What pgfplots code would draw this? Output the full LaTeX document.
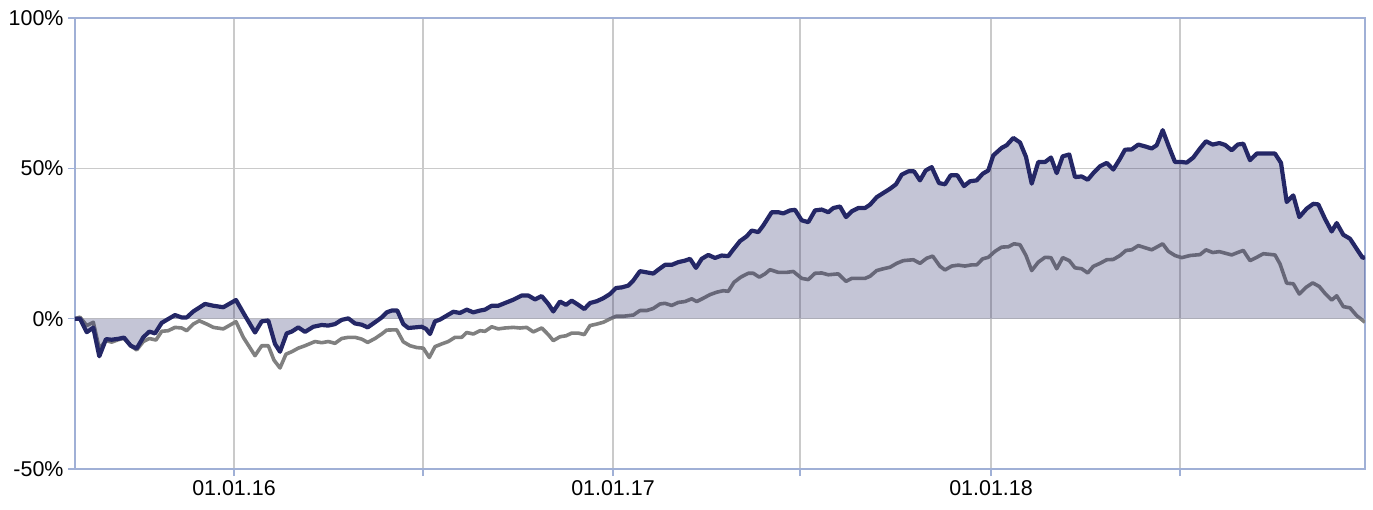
\documentclass[border=0pt]{standalone}
\usepackage{pgfplots}
\pgfplotsset{compat=1.18}
\usepackage{fontspec}
\setmainfont{Liberation Sans}
\definecolor{navyline}{RGB}{36,39,102}
\definecolor{grayline}{RGB}{128,128,128}
\definecolor{axisblue}{RGB}{160,176,214}
\definecolor{gridgray}{RGB}{202,202,202}

% x = horizontal position on the time axis (01.01.16 at 234, 01.01.17 at 613, 01.01.18 at 991)
\pgfplotstableread{
x v
75 0
80 0
86.7 -4.5
93.3 -3
99.3 -12.5
106 -6.8
111.7 -7
118.3 -6.7
124 -6.3
130.7 -9
136.7 -9.9
143.3 -6.2
149.3 -4.3
155 -4.9
161.7 -1.4
168.3 -0.1
175 1.2
181.7 0.4
186.7 0.4
193.3 2.4
205 4.9
213.3 4.3
223.3 3.8
236 6.2
245 1.0
255 -4.6
261.7 -0.9
268.3 -0.6
275 -8.4
280 -11
286.7 -4.9
291.7 -4.3
298.3 -2.9
305 -4.4
313.3 -2.7
321.7 -2.1
328.3 -2.3
335 -1.8
341.7 -0.4
348.3 0.1
355 -1.6
361.7 -2
367.7 -2.9
375 -1.2
381.7 0.4
386.7 2.1
391.7 2.7
397.3 2.7
403.3 -1.8
408.3 -3.1
415 -2.9
421.7 -2.7
426 -3.4
430 -5.1
435 -0.9
440 -0.3
446.7 1
453.3 2.3
460 1.9
466.7 3
473.3 2.1
480 2.7
485 3
491.7 4.3
498.3 4.3
505 5.2
513.3 6.3
521.7 7.7
528.3 7.7
535 6.4
541.7 7.5
548.3 4.9
553.3 2.4
560 5.7
566 4.6
571.7 6
578.3 4.6
584.3 3.2
590 5.2
596.7 5.8
603.3 6.8
610 8.2
616 10.2
621.7 10.4
628.3 11
633.3 12.7
640 15.8
646.7 15.4
653.3 15
658.3 16.3
665 17.9
671.7 17.9
678.3 18.8
685 19.3
690 19.9
696 16.9
701.7 19.9
708.3 21.2
715 20.2
721.7 21
728.3 20.8
733.3 23
740 25.8
746.7 27.4
751.7 29.3
758.3 28.8
763.3 31
771.7 35.4
778.3 35.4
783.3 35
790 36
795 36.2
801.7 32.7
808.3 32.1
815 36
821.7 36.3
828.3 35.4
833.3 36.8
840 37.3
846 33.8
851.7 35.7
858.3 36.8
865 36.8
870 37.9
876.7 40.4
883.3 41.8
890 43.2
896 44.7
901.7 47.9
908.3 49
914 49
920 46
925.7 49.3
931.7 50.4
939 45.1
945 44.7
950.7 47.7
957.3 47.7
964 44.1
970 45.7
976.7 46
982.7 48.2
988.3 49.3
993.3 54.3
1001.7 56.8
1006.7 57.7
1013.3 60.1
1020 58.6
1026 53.8
1031.7 44.9
1038.3 52.1
1045 52.1
1051 53.6
1056.7 48.4
1062.7 54
1069.3 54.6
1075 47.1
1081.7 47.3
1087.7 46.2
1093.3 48.4
1100 50.7
1106.7 51.8
1113.3 49.6
1120 53.2
1125 56.2
1131.7 56.3
1138.3 57.9
1145 57.3
1151.7 56.6
1156.7 57.7
1162.7 62.7
1169 57.1
1175 52.1
1181.7 52.1
1186.7 51.9
1193.3 53.6
1200 56.6
1206 59
1212.7 57.9
1219.3 58.4
1225 57.8
1231.7 56
1237.7 57.9
1243.3 58.2
1250 52.7
1256.7 54.9
1265 54.9
1275 54.9
1281 51.8
1286.7 38.8
1293.3 41
1299.3 33.8
1306.7 36.6
1313.3 38.2
1318.3 38
1325 33.2
1331.7 29
1336.7 31.8
1343.3 27.9
1350 26.6
1356.7 23.2
1362.7 20.2
1365 20.5
}\navytable

\pgfplotstableread{
x v
75 0
80 0.5
86.7 -2.3
93.3 -1.2
99.3 -10
106 -7.3
111.7 -7.8
118.3 -7
124 -6.5
130.7 -9
136.7 -10.4
143.3 -7.6
149.3 -6.6
156 -7.1
161.7 -4.2
168.3 -4
175 -2.9
181.7 -3.1
186.7 -4
193.3 -1.8
199.3 -0.7
206.7 -1.8
213.3 -2.9
223.3 -3.4
236 -1
243.3 -6.2
255 -12.3
261.7 -9
268.3 -9
274 -13.8
280 -16.4
286 -11.8
291.7 -11
298.3 -9.8
305 -9
315 -7.6
321.7 -8
328.3 -7.6
335 -8.2
341.7 -6.6
348.3 -6.2
355 -6.2
361.7 -6.8
367.7 -7.9
375 -6.6
381.7 -5.1
386.7 -3.8
396.7 -3.7
403.3 -7.7
410 -9
416.7 -9.6
423.3 -9.8
429.3 -12.9
435 -9.3
441.7 -8.4
448.3 -7.6
455 -6.2
461.7 -6.2
466.7 -4.6
473.3 -5.1
480 -4
485 -4.2
491.7 -2.7
498.3 -3.4
505 -3.1
513.3 -2.9
520 -3.1
526.7 -2.9
533.3 -4.4
541.7 -3.1
548.3 -5.3
553.3 -7.3
560 -6
566 -5.7
571.7 -4.8
578.3 -4.8
584.3 -5.3
590 -2.3
596.7 -1.8
603.3 -1.2
610 -0.1
616 0.8
623.3 0.8
633.3 1.2
640 2.7
646.7 2.7
653.3 3.4
660 4.9
665 5.1
671.7 4.4
678.3 5.4
685 5.7
691.7 6.6
696.7 5.7
703.3 6.8
710 8
716.7 8.8
723.3 9.3
728.3 9.1
734 12.1
740.7 13.8
748.3 15.1
753.3 15.1
759.3 13.8
765 14.9
770 16.3
778.3 15.4
786.7 15.4
793.3 15.7
801.7 13.4
808.3 13
815 15.1
821.7 15.2
828.3 14.6
838.3 14.9
846 12.4
851.7 13.4
858.3 13.4
865 13.4
870 14.1
876.7 16
883.3 16.6
890 17.1
896.7 18.4
903.3 19.3
913.3 19.6
920 18.4
926.7 20.1
932.7 20.8
940 17.4
945 16.2
951.7 17.5
958.3 17.8
965 17.5
971.7 17.9
976.7 17.9
982.7 19.9
988.3 20.4
995 22.4
1001.7 23.8
1008.3 23.9
1014 24.9
1020 24.6
1026 21
1031.7 16
1038.3 18.8
1045 20.4
1051 20.3
1056.7 16.6
1062.7 20.3
1069.3 19.3
1075 16.9
1081.7 16.6
1087.7 15.2
1093.3 17.4
1100 18.4
1106.7 19.6
1113.3 19.7
1120 21
1126 22.7
1131.7 22.9
1138.3 24.3
1145 23.6
1151.7 22.9
1156.7 23.8
1162.7 24.9
1168.3 22.4
1175 21
1181.7 20.3
1190 21
1200 21.3
1206 22.9
1212.7 22
1219.3 22.3
1225 21.8
1231.7 21.2
1237.7 22
1243.3 22.7
1250 19.3
1256.7 20.4
1263.3 21.6
1275 21.2
1280 18.2
1286.7 11.8
1293.3 11.6
1299.3 8.2
1306 10.4
1312.7 11.9
1319.3 10.7
1325 8.4
1331.7 6.2
1336.7 7.6
1343.3 4
1350 3.6
1356.7 1
1365 -1.2
}\graytable

\begin{document}
\begin{tikzpicture}
\begin{axis}[
  scale only axis,
  width=1290bp, height=451bp,
  xmin=75, xmax=1365,
  ymin=-50, ymax=100,
  xtick={234,423,613,800,991,1180},
  xticklabels={01.01.16,,01.01.17,,01.01.18,},
  ytick={-50,0,50,100},
  yticklabels={-50\%,0\%,50\%,100\%},
  tick pos=left,
  tick align=outside,
  major tick length=7bp,
  grid=major,
  major grid style={draw=gridgray, line width=1.3bp},
  axis line style={draw=axisblue, line width=1.6bp},
  tick style={draw=axisblue, line width=1.3bp},
  ticklabel style={font=\fontsize{21.5}{24}\selectfont, text=black},
  yticklabel style={xshift=-1bp},
  xticklabel style={yshift=-1bp},
  /pgf/number format/assume math mode=true,
]
\addplot[draw=grayline, line width=3.6bp, line join=round] table[x=x,y=v] {\graytable};
\addplot[fill=navyline, fill opacity=0.27, draw=none] table[x=x,y=v] {\navytable} \closedcycle;
\addplot[draw=navyline, line width=4.2bp, line join=round] table[x=x,y=v] {\navytable};
\end{axis}
\pgfresetboundingbox
\path ([shift={(-75bp,-40bp)}]current axis.south west) rectangle ([shift={(8bp,18bp)}]current axis.north east);
\end{tikzpicture}
\end{document}
